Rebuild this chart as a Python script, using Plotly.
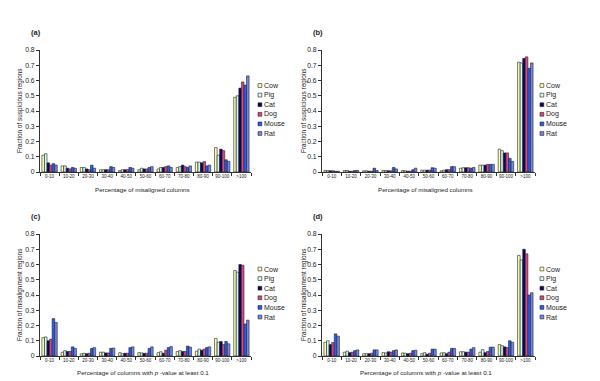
import plotly.graph_objects as go

W, H = 600, 381

categories = ["0-10", "10-20", "20-30", "30-40", "40-50", "50-60",
              "60-70", "70-80", "80-90", "90-100", ">100"]
species = ["Cow", "Pig", "Cat", "Dog", "Mouse", "Rat"]
colors = ["#FFFFB0", "#CCFFF0", "#10006E", "#E0457B", "#2060F0", "#7585EC"]

# Panel (a): fraction of suspicious regions vs % misaligned columns
a_cow   = [0.110, 0.040, 0.030, 0.015, 0.010, 0.015, 0.020, 0.030, 0.065, 0.160, 0.490]
a_pig   = [0.120, 0.040, 0.030, 0.015, 0.015, 0.025, 0.030, 0.035, 0.065, 0.110, 0.500]
a_cat   = [0.060, 0.025, 0.020, 0.015, 0.015, 0.020, 0.030, 0.045, 0.060, 0.150, 0.550]
a_dog   = [0.045, 0.020, 0.015, 0.015, 0.015, 0.020, 0.035, 0.035, 0.068, 0.140, 0.590]
a_mouse = [0.055, 0.030, 0.045, 0.035, 0.030, 0.030, 0.040, 0.030, 0.040, 0.080, 0.570]
a_rat   = [0.045, 0.025, 0.025, 0.030, 0.025, 0.035, 0.030, 0.040, 0.045, 0.070, 0.630]

# Panel (b)
b_cow   = [0.010, 0.010, 0.008, 0.010, 0.010, 0.012, 0.008, 0.025, 0.045, 0.150, 0.720]
b_pig   = [0.010, 0.010, 0.008, 0.010, 0.008, 0.012, 0.012, 0.028, 0.045, 0.140, 0.715]
b_cat   = [0.008, 0.005, 0.005, 0.008, 0.005, 0.012, 0.015, 0.028, 0.045, 0.125, 0.745]
b_dog   = [0.008, 0.005, 0.005, 0.008, 0.005, 0.012, 0.015, 0.028, 0.050, 0.125, 0.755]
b_mouse = [0.005, 0.010, 0.025, 0.030, 0.015, 0.028, 0.035, 0.025, 0.050, 0.090, 0.680]
b_rat   = [0.005, 0.010, 0.010, 0.020, 0.025, 0.025, 0.035, 0.030, 0.050, 0.070, 0.715]

# Panel (c): fraction of misalignment regions vs % columns with p-value >= 0.1
c_cow   = [0.120, 0.025, 0.015, 0.025, 0.022, 0.022, 0.022, 0.030, 0.032, 0.115, 0.560]
c_pig   = [0.125, 0.035, 0.018, 0.025, 0.015, 0.020, 0.028, 0.035, 0.045, 0.090, 0.550]
c_cat   = [0.100, 0.030, 0.015, 0.020, 0.018, 0.018, 0.018, 0.030, 0.038, 0.095, 0.600]
c_dog   = [0.110, 0.030, 0.018, 0.020, 0.018, 0.018, 0.038, 0.030, 0.045, 0.075, 0.595]
c_mouse = [0.245, 0.060, 0.050, 0.050, 0.055, 0.050, 0.055, 0.065, 0.055, 0.095, 0.210]
c_rat   = [0.220, 0.050, 0.055, 0.052, 0.060, 0.060, 0.062, 0.058, 0.060, 0.080, 0.235]

# Panel (d)
d_cow   = [0.090, 0.025, 0.015, 0.022, 0.020, 0.015, 0.020, 0.028, 0.025, 0.075, 0.660]
d_pig   = [0.100, 0.032, 0.015, 0.020, 0.018, 0.022, 0.022, 0.028, 0.042, 0.068, 0.630]
d_cat   = [0.075, 0.022, 0.015, 0.028, 0.015, 0.012, 0.015, 0.025, 0.022, 0.060, 0.700]
d_dog   = [0.088, 0.025, 0.018, 0.025, 0.018, 0.018, 0.025, 0.025, 0.030, 0.055, 0.670]
d_mouse = [0.145, 0.035, 0.040, 0.035, 0.035, 0.045, 0.050, 0.045, 0.058, 0.100, 0.400]
d_rat   = [0.130, 0.040, 0.040, 0.040, 0.038, 0.045, 0.050, 0.055, 0.058, 0.090, 0.415]

panel_labels = ["(a)", "(b)", "(c)", "(d)"]
y_titles = ["Fraction of suspicious regions", "Fraction of suspicious regions",
            "Fraction of misalignment regions", "Fraction of misalignment regions"]
x_titles = ["Percentage of misaligned columns", "Percentage of misaligned columns",
            "Percentage of columns with <i>p</i> -value at least 0.1",
            "Percentage of columns with <i>p</i> -value at least 0.1"]
y_ticks = [0, 0.1, 0.2, 0.3, 0.4, 0.5, 0.6, 0.7, 0.8]

panels = [
    [a_cow, a_pig, a_cat, a_dog, a_mouse, a_rat],
    [b_cow, b_pig, b_cat, b_dog, b_mouse, b_rat],
    [c_cow, c_pig, c_cat, c_dog, c_mouse, c_rat],
    [d_cow, d_pig, d_cat, d_dog, d_mouse, d_rat],
]

# Layout geometry in pixels: (left, right, top, bottom) of each plot area
boxes = [(32, 243, 42, 164), (314, 527, 42, 164),
         (32, 243, 226, 348), (314, 527, 226, 348)]
ytitle_x = [12, 296, 12, 296]
label_x = [21, 303, 21, 303]
label_y = [24, 24, 209, 209]
xtitle_y = [181, 181, 364, 364]
legend_x = [250, 532, 250, 532]
legend_y0 = [77.5, 77.5, 261, 261]
legend_dy = 9.6

def px(x):
    return x / W

def py(y):
    return 1 - y / H

TXT = "#222222"
FONT = "Liberation Sans, Arial, sans-serif"

fig = go.Figure()
annotations = []
shapes = []

for i, series in enumerate(panels):
    n = "" if i == 0 else str(i + 1)
    l, r, t, b = boxes[i]
    for s, vals in enumerate(series):
        fig.add_trace(go.Bar(
            x=categories, y=vals, name=species[s],
            marker=dict(color=colors[s], line=dict(color="#222222", width=0.6)),
            xaxis="x" + n, yaxis="y" + n, showlegend=False,
            offsetgroup=str(s),
        ))
    fig.update_layout(**{
        "xaxis" + n: dict(
            domain=[px(l), px(r)], anchor="y" + n, type="category",
            categoryorder="array", categoryarray=categories,
            showline=True, linecolor="#333333", linewidth=1,
            ticks="outside", ticklen=3, tickcolor="#333333", tickson="boundaries",
            tickangle=0, automargin=False,
            showgrid=False, tickfont=dict(size=4.5, color=TXT, family=FONT),
        ),
        "yaxis" + n: dict(
            domain=[py(b), py(t)], anchor="x" + n, range=[0, 0.8],
            tickvals=y_ticks, showline=True, linecolor="#333333", linewidth=1,
            ticks="outside", ticklen=3, tickcolor="#333333",
            showgrid=False, zeroline=False, automargin=False,
            tickfont=dict(size=6.8, color=TXT, family=FONT),
        ),
    })
    # panel label
    annotations.append(dict(
        x=px(label_x[i]), y=py(label_y[i]), xref="paper", yref="paper",
        text="<b>" + panel_labels[i] + "</b>", showarrow=False,
        xanchor="left", yanchor="middle", font=dict(size=7.5, color=TXT, family=FONT)))
    # y title
    annotations.append(dict(
        x=px(ytitle_x[i]), y=py((t + b) / 2), xref="paper", yref="paper",
        text=y_titles[i], textangle=-90, showarrow=False,
        xanchor="center", yanchor="middle", font=dict(size=6.4, color=TXT, family=FONT)))
    # x title
    annotations.append(dict(
        x=px((l + r) / 2 - 3), y=py(xtitle_y[i]), xref="paper", yref="paper",
        text=x_titles[i], showarrow=False,
        xanchor="center", yanchor="middle", font=dict(size=6.2, color=TXT, family=FONT)))
    # legend
    for s, name in enumerate(species):
        yc = legend_y0[i] + s * legend_dy
        shapes.append(dict(
            type="rect", xref="paper", yref="paper",
            x0=px(legend_x[i]), x1=px(legend_x[i] + 3.8),
            y0=py(yc + 1.9), y1=py(yc - 1.9),
            fillcolor=colors[s], line=dict(color="#222222", width=0.6)))
        annotations.append(dict(
            x=px(legend_x[i] + 4.2), y=py(yc), xref="paper", yref="paper",
            text=name, showarrow=False, xanchor="left", yanchor="middle",
            font=dict(size=7, color=TXT, family=FONT)))

fig.update_layout(
    width=W, height=H, margin=dict(l=0, r=0, t=0, b=0),
    paper_bgcolor="white", plot_bgcolor="white",
    barmode="group", bargap=0.2, bargroupgap=0,
    font=dict(family=FONT, color=TXT),
    annotations=annotations, shapes=shapes,
)

fig.write_html("out.html")
